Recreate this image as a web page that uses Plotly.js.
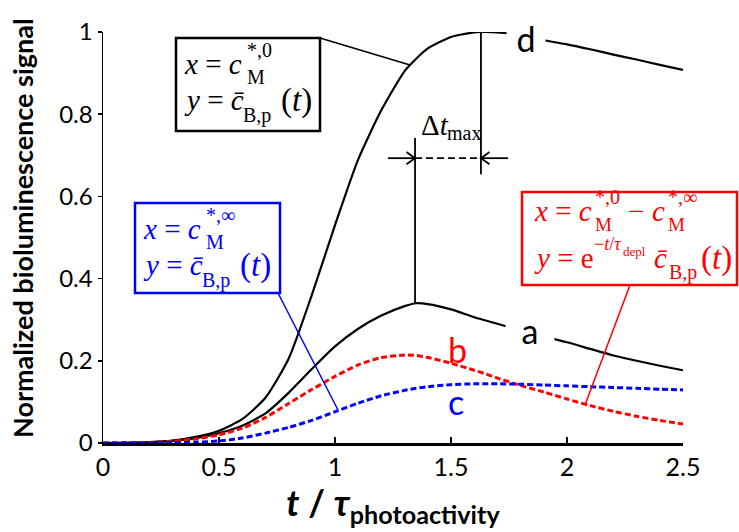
<!DOCTYPE html>
<html><head><meta charset="utf-8">
<script src="https://cdn.plot.ly/plotly-3.0.1.min.js"></script>
<style>body{margin:0;background:#fff}#chart{width:739px;height:532px}</style>
</head><body><div id="chart"></div>
<script>
// time axis t / tau_photoactivity
const tValues = [0,0.1,0.2,0.3,0.4,0.5,0.6,0.7,0.8,0.9,1.0,1.1,1.2,1.3,1.35,1.4,1.5,1.6,1.65,1.7,1.8,1.9,2.0,2.1,2.2,2.3,2.4,2.5];
// curve d (black, solid)
const curveD = [0,0.0005,0.002,0.006,0.015,0.03,0.058,0.11,0.205,0.36,0.53,0.69,0.81,0.905,0.935,0.96,0.988,0.999,1.0,0.999,0.993,0.98,0.97,0.958,0.945,0.933,0.92,0.908];
// curve a (black, solid)
const curveA = [0,0.0005,0.0018,0.005,0.012,0.024,0.042,0.072,0.122,0.18,0.235,0.278,0.31,0.333,0.34,0.338,0.325,0.306,0.298,0.29,0.274,0.259,0.245,0.229,0.213,0.2,0.188,0.177];
// curve b (red, dashed)
const curveB = [0,0.0004,0.0015,0.004,0.01,0.02,0.036,0.062,0.096,0.13,0.162,0.19,0.208,0.214,0.213,0.208,0.194,0.177,0.168,0.158,0.14,0.124,0.107,0.091,0.077,0.065,0.055,0.046];
// curve c (blue, dashed)
const curveC = [0,0,0.0003,0.001,0.002,0.005,0.012,0.024,0.038,0.055,0.076,0.097,0.115,0.128,0.133,0.137,0.142,0.144,0.144,0.144,0.143,0.141,0.139,0.137,0.135,0.133,0.131,0.129];
const xTicks = [0,0.5,1,1.5,2,2.5];
const xTickText = ['0','0.5','1','1.5','2','2.5'];
const yTicks = [0,0.2,0.4,0.6,0.8,1];
const yTickText = ['0','0.2','0.4','0.6','0.8','1'];
const curveLabels = ['d','a','b','c'];
const yTitle = 'Normalized bioluminescence signal';

const traces = [
  {x:tValues,y:curveD,mode:'lines',line:{color:'#000',width:2.2,shape:'spline',smoothing:0.6},hoverinfo:'skip'},
  {x:tValues,y:curveA,mode:'lines',line:{color:'#000',width:2.2,shape:'spline',smoothing:0.6},hoverinfo:'skip'},
  {x:tValues,y:curveB,mode:'lines',line:{color:'#ff0000',width:3,dash:'6px,3px',shape:'spline',smoothing:0.6},hoverinfo:'skip'},
  {x:tValues,y:curveC,mode:'lines',line:{color:'#0000ff',width:3,dash:'6px,3px',shape:'spline',smoothing:0.6},hoverinfo:'skip'}
];

const serif = 'Liberation Serif, Times New Roman, serif';
const sans = 'Lato, Open Sans, sans-serif';
// page-pixel helpers for annotation placement (plot area: x 103..683, y 32..443)
const PX = px => (px-103)/580;
const PY = py => (443-py)/411;
const ln = (x0,y0,x1,y1,color,w,dash)=>({type:'line',xref:'x',yref:'y',x0,y0,x1,y1,line:{color,width:w||1.5,dash:dash||'solid'}});
const pln = (a,b,c,d,color,w)=>({type:'line',xref:'paper',yref:'paper',x0:PX(a),y0:PY(b),x1:PX(c),y1:PY(d),line:{color,width:w||1.5}});
const box = (l,t,r,b,color)=>({type:'rect',xref:'paper',yref:'paper',x0:PX(l),y0:PY(t),x1:PX(r),y1:PY(b),line:{color,width:2.5},fillcolor:'rgba(0,0,0,0)',layer:'above'});
const piece = (px,base,text,size,color)=>({xref:'paper',yref:'paper',x:PX(px),y:PY(base),xanchor:'left',yanchor:'bottom',
  yshift:-0.216*size,borderpad:0,showarrow:false,text,font:{family:serif,size,color}});

function simpleBox(L,T,sup,color){
  return [
    piece(L+7,T+37,'<i>x</i> = <i>c</i>',29,color),
    piece(L+70,T+20,sup,20,color),
    piece(L+70,T+47,'M',20,color),
    piece(L+7,T+73,'<i>y</i> = <i>c̄</i>',29,color),
    piece(L+66,T+86,'B,p',20,color),
    piece(L+104,T+75,'(<i>t</i>)',33,color)
  ];
}
const red = '#ff0000';
const redBox = [
  piece(533,222,'<i>x</i> = <i>c</i>',29,red),
  piece(594,205,'*,0',20,red),
  piece(594,232,'M',19,red),
  piece(627,222,'−',29,red),
  piece(651,222,'<i>c</i>',29,red),
  piece(667,205,'*,∞',20,red),
  piece(667,232,'M',19,red),
  piece(533,269,'<i>y</i> = e',29,red),
  piece(593,251,'−<i>t</i>/<i>τ</i>',18,red),
  piece(622,257,'depl',13,red),
  piece(653,269,'<i>c̄</i>',29,red),
  piece(668,281,'B,p',20,red),
  piece(700,271,'(<i>t</i>)',33,red)
];

const shapes = [
  box(176,38,320,131,'#000'),
  box(135,203,280,293,'#0000ff'),
  box(522,192,737,285,red),
  pln(320,38,410,65,'#000',1.5),
  pln(278,293,338,410,'#0000ff',1.5),
  pln(630,285,585,405,red,1.5),
  ln(1.345,0.34,1.345,0.742,'#000',1.8),
  ln(1.629,1.0,1.629,0.654,'#000',1.8),
  ln(1.228,0.693,1.345,0.693,'#000',1.8),
  ln(1.345,0.693,1.629,0.693,'#000',1.8,'7px,4px'),
  ln(1.629,0.693,1.746,0.693,'#000',1.8),
  {type:'path',xref:'x',yref:'y',path:'M 1.308,0.708 L 1.345,0.693 L 1.308,0.678',line:{color:'#000',width:1.8}},
  {type:'path',xref:'x',yref:'y',path:'M 1.666,0.708 L 1.629,0.693 L 1.666,0.678',line:{color:'#000',width:1.8}}
];

const annotations = [
  ...simpleBox(176,38,'*,0','#000'),
  ...simpleBox(135,203,'*,∞','#0000ff'),
  ...redBox,
  piece(420,136,'Δ<i>t</i>',29,'#000'),
  piece(446,141,'max',20,'#000'),
  {x:1.825,y:0.985,xref:'x',yref:'y',showarrow:false,text:curveLabels[0],
   font:{family:sans,size:34,color:'#000'},bgcolor:'#fff',width:36,height:30},
  {x:1.84,y:0.275,xref:'x',yref:'y',showarrow:false,text:curveLabels[1],
   font:{family:sans,size:34,color:'#000'},bgcolor:'#fff',width:46,height:30},
  {x:1.53,y:0.228,xref:'x',yref:'y',showarrow:false,text:curveLabels[2],
   font:{family:sans,size:34,color:red}},
  {x:1.52,y:0.1,xref:'x',yref:'y',showarrow:false,text:curveLabels[3],
   font:{family:sans,size:34,color:'#0000ff'}},
  {xref:'paper',yref:'paper',x:PX(22),y:PY(228),xanchor:'center',yanchor:'middle',textangle:-90,showarrow:false,
   text:'<b>'+yTitle+'</b>',font:{family:sans,size:27,color:'#000'}}
];

const layout = {
  width:739,height:532,
  margin:{l:103,r:56,t:32,b:89},
  paper_bgcolor:'#fff',plot_bgcolor:'#fff',
  showlegend:false,
  xaxis:{range:[0,2.5],tickvals:xTicks,ticktext:xTickText,showgrid:false,zeroline:false,
    showline:true,linecolor:'#000',linewidth:2.5,ticks:'inside',ticklen:6,tickwidth:1.5,tickcolor:'#000',
    tickfont:{family:sans,size:25,color:'#000'},
    title:{text:'<b><i>t</i> / <i>τ</i><sub>photoactivity</sub></b>',font:{family:sans,size:36,color:'#000'},standoff:8}},
  yaxis:{range:[0,1],tickvals:yTicks,ticktext:yTickText,showgrid:false,zeroline:false,
    showline:true,linecolor:'#000',linewidth:1.5,ticks:'outside',ticklen:4,tickwidth:1.5,tickcolor:'#000',
    tickfont:{family:sans,size:24,color:'#000'}},
  shapes, annotations
};
Plotly.newPlot('chart',traces,layout,{displayModeBar:false,staticPlot:true});
</script></body></html>
